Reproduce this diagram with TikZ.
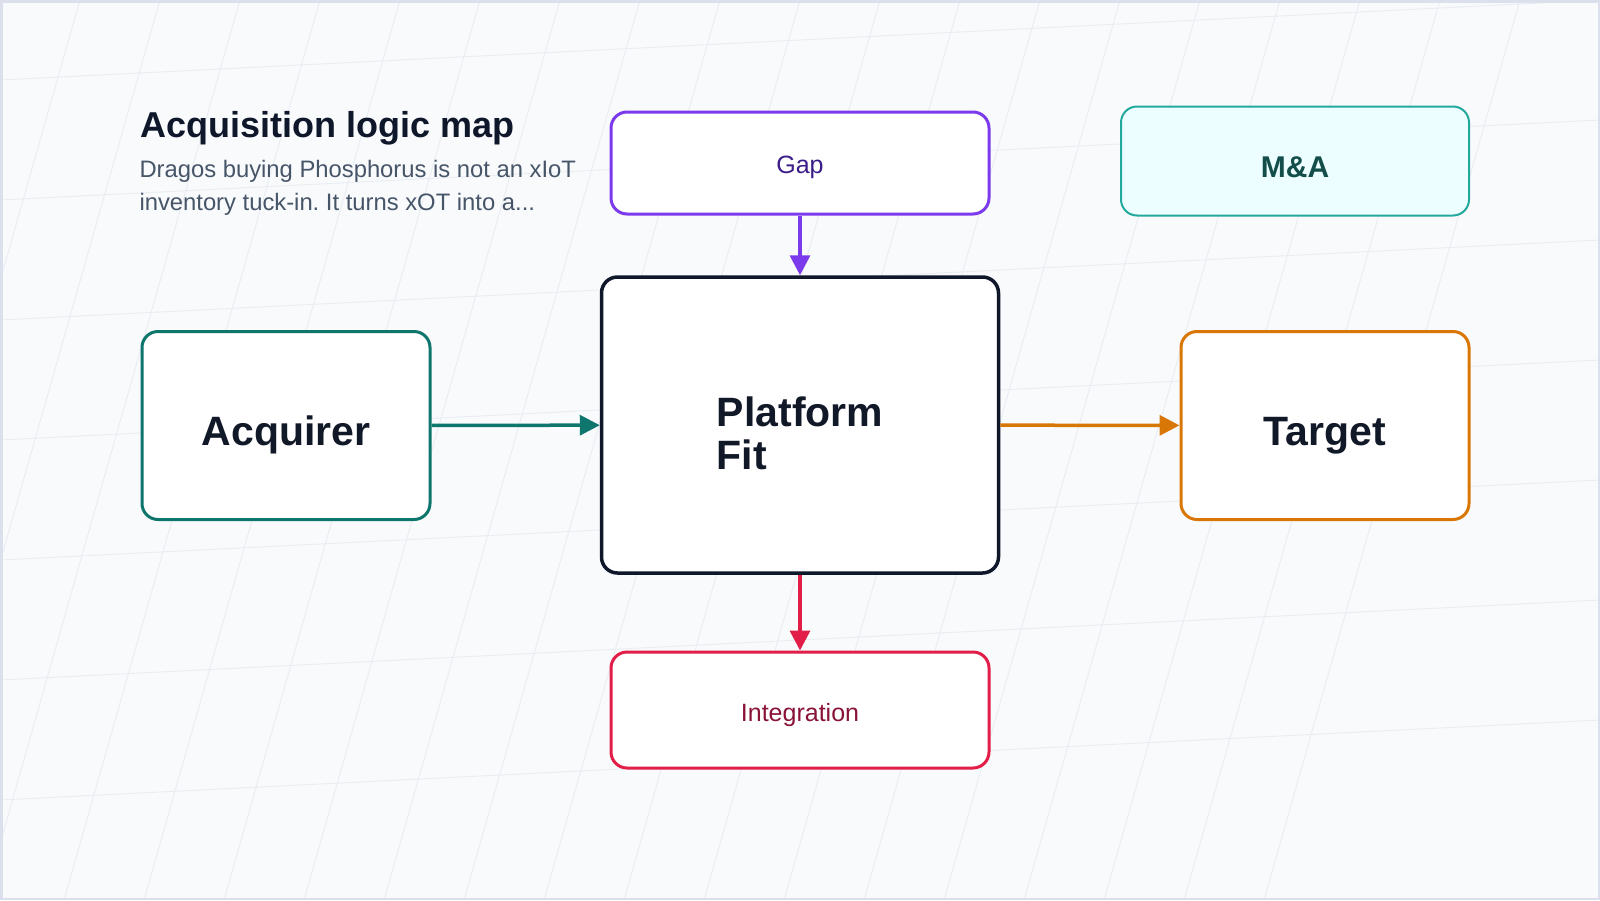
\documentclass[tikz,border=0pt]{standalone}
\usepackage{fontspec}
\setmainfont{Liberation Sans}
\frenchspacing
\usetikzlibrary{arrows.meta}
\definecolor{cpage}{HTML}{F8FAFC}
\definecolor{cgrid}{HTML}{E9EDF2}
\definecolor{cframe}{HTML}{DCE0EC}
\definecolor{cink}{HTML}{111827}
\definecolor{cnavy}{HTML}{0F172A}
\definecolor{cslate}{HTML}{475569}
\definecolor{cteal}{HTML}{0F766E}
\definecolor{corange}{HTML}{D97706}
\definecolor{cpurple}{HTML}{7C3AED}
\definecolor{cpurpletext}{HTML}{3B1D8A}
\definecolor{ccrimson}{HTML}{E11D48}
\definecolor{ccrimsontext}{HTML}{881337}
\definecolor{caqua}{HTML}{23A99C}
\definecolor{caquafill}{HTML}{ECFEFF}
\definecolor{caquatext}{HTML}{134E4A}
\tikzset{
  every picture/.style={line width=3pt},
  box/.style={draw=#1, fill=white, rounded corners=16pt, align=center, inner sep=0pt, line width=3pt, text depth=0pt},
  box/.default=cnavy,
  sidebox/.style={box=#1, minimum width=288pt, minimum height=188pt, text=cink, text height=39.6pt, font=\fontsize{41}{43}\selectfont\bfseries},
  flatbox/.style={box=#1, minimum width=378pt, font=\fontsize{25}{29}\selectfont},
  arrow/.style={-{Triangle[length=20pt, width=20pt]}, draw=#1, line width=3.5pt},
  title/.style={font=\fontsize{36}{43}\selectfont\bfseries, text=cnavy, inner sep=0pt},
  note/.style={font=\fontsize{23.8}{33.5}\selectfont, text=cslate, align=left, inner sep=0pt},
}

\begin{document}
\begin{tikzpicture}[x=1pt, y=-1pt]
  \useasboundingbox (0,0) rectangle (1600,900);
  % ---- page and skewed grid
  \fill[cpage] (0,0) rectangle (1600,900);
  \begin{scope}
    \clip (0,0) rectangle (1600,900);
    \foreach \k in {1,...,19} \draw[cgrid, line width=0.9pt] (80*\k,0) -- ({80*\k-256},900);
    \foreach \j in {0,...,6} \draw[cgrid, line width=0.9pt] (0,{80+120*\j}) -- (1600,{120*\j});
  \end{scope}
  \draw[cframe, line width=2.5pt] (1.25,1.25) rectangle (1598.75,898.75);
  % ---- heading
  \node[title, anchor=base west] (head) at (139,137) {Acquisition logic map};
  \node[note, anchor=base west] (blurb) at (138,210.8) {Dragos buying Phosphorus is not an xIoT\\inventory tuck-in. It turns xOT into a...};
  % ---- boxes
  \node[box=cnavy, line width=3.5pt, minimum width=397pt, minimum height=296pt, align=left, text=cink, text height=89.6pt, font=\fontsize{41}{43}\selectfont\bfseries] (fit) at (800,425) {Platform\\Fit};
  \node[sidebox=cteal] (acq) at (286,425.5) {Acquirer};
  \node[sidebox=corange] (tgt) at (1325,425.5) {Target};
  \node[flatbox=cpurple, minimum height=102pt, text height=20.8pt, text=cpurpletext] (gap) at (800,163) {Gap};
  \node[flatbox=ccrimson, minimum height=116pt, text height=22.4pt, text=ccrimsontext] (integ) at (800,710) {Integration};
  \node[box=caqua, fill=caquafill, line width=2pt, minimum width=348pt, minimum height=109pt, text height=33.6pt, text=caquatext, font=\fontsize{30}{36}\selectfont\bfseries] (deal) at (1295,161) {M\&A};
  % ---- connectors
  \draw[arrow=cteal] (acq) -- (fit);
  \draw[arrow=corange] (fit) -- (tgt);
  \draw[arrow=cpurple] (gap) -- (fit);
  \draw[arrow=ccrimson] (fit) -- (integ);
\end{tikzpicture}
\end{document}
